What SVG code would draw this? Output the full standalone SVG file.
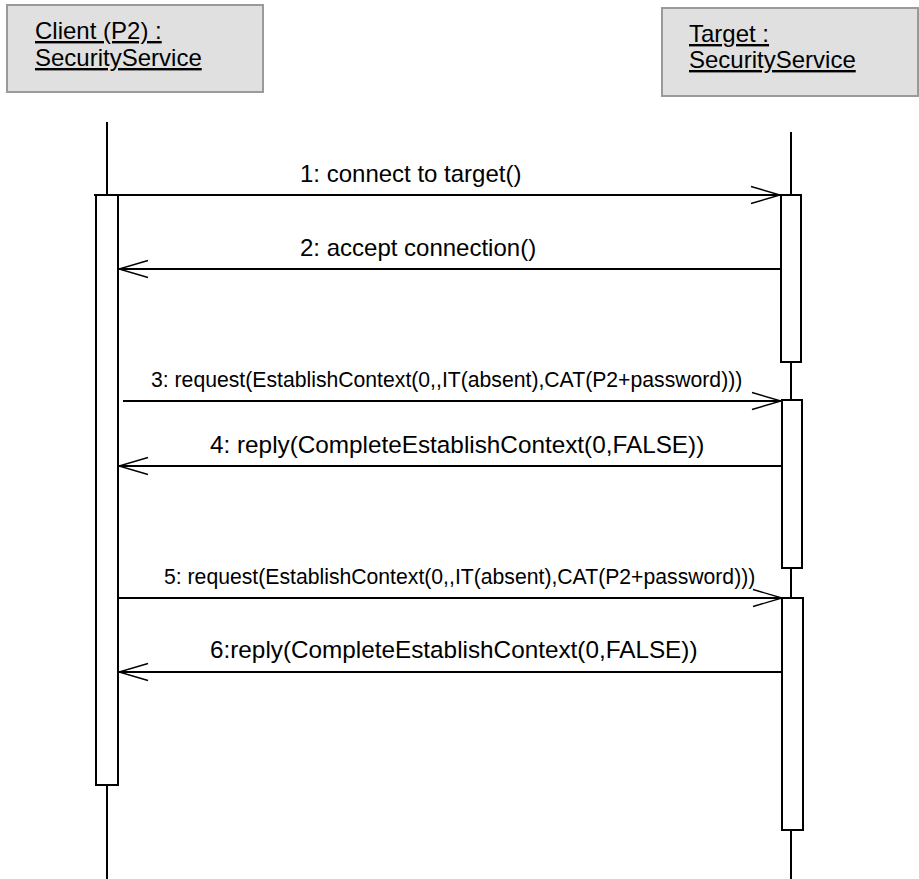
<svg xmlns="http://www.w3.org/2000/svg" width="919" height="879" viewBox="0 0 919 879">
<defs>
<style>
.obj{fill:#e0e0e0;stroke:#9a9a9a;stroke-width:2}
.otxt{font-family:"Liberation Sans",Arial,sans-serif;font-size:24px;fill:#000;text-decoration:underline}
.life{stroke:#000;stroke-width:2;fill:none}
.act{fill:#fff;stroke:#000;stroke-width:2}
.msg{stroke:#000;stroke-width:2;fill:none;marker-end:url(#open)}
.lbl{font-family:"Liberation Sans",Arial,sans-serif;font-size:24px;fill:#000}
.lblm{font-family:"Liberation Sans",Arial,sans-serif;font-size:24.3px;fill:#000}
.lbls{font-family:"Liberation Sans",Arial,sans-serif;font-size:21.2px;fill:#000}
</style>
<marker id="open" markerUnits="userSpaceOnUse" viewBox="-31 -11 33 22" markerWidth="33" markerHeight="22" refX="0" refY="0" orient="auto" overflow="visible">
<path d="M-29,-8.5 L0,0 L-29,8.5" fill="none" stroke="#000" stroke-width="1.4"/>
</marker>
</defs>
<g id="client">
<rect class="obj" x="7" y="5" width="256" height="87"/>
<text class="otxt" x="35" y="39">Client (P2) :</text>
<text class="otxt" x="35" y="66">SecurityService</text>
<line class="life" x1="107" y1="122" x2="107" y2="195"/>
<line class="life" x1="107" y1="785" x2="107" y2="879"/>
<rect class="act" x="96" y="195" width="22" height="590"/>
</g>
<g id="target">
<rect class="obj" x="662" y="8" width="256" height="88"/>
<text class="otxt" x="689" y="42">Target :</text>
<text class="otxt" x="689" y="68">SecurityService</text>
<line class="life" x1="791" y1="132" x2="791" y2="195"/>
<line class="life" x1="791" y1="362" x2="791" y2="400"/>
<line class="life" x1="791" y1="568" x2="791" y2="598"/>
<line class="life" x1="791" y1="830" x2="791" y2="879"/>
<rect class="act" x="781" y="195" width="20" height="167"/>
<rect class="act" x="782" y="400" width="20" height="168"/>
<rect class="act" x="782" y="598" width="21" height="232"/>
</g>
<g id="connectors">
<path class="msg" d="M94,195 H780"/>
<path class="msg" d="M781,269 H119"/>
<path class="msg" d="M123,401 H781"/>
<path class="msg" d="M782,466 H119"/>
<path class="msg" d="M118,598 H782"/>
<path class="msg" d="M782,672 H119"/>
<text class="lbl" x="300" y="182">1: connect to target()</text>
<text class="lbl" x="300" y="256">2: accept connection()</text>
<text class="lbls" x="151" y="387">3: request(EstablishContext(0,,IT(absent),CAT(P2+password)))</text>
<text class="lblm" x="210" y="453">4: reply(CompleteEstablishContext(0,FALSE))</text>
<text class="lbls" x="164" y="584">5: request(EstablishContext(0,,IT(absent),CAT(P2+password)))</text>
<text class="lblm" x="210" y="658">6:reply(CompleteEstablishContext(0,FALSE))</text>
</g>
</svg>
